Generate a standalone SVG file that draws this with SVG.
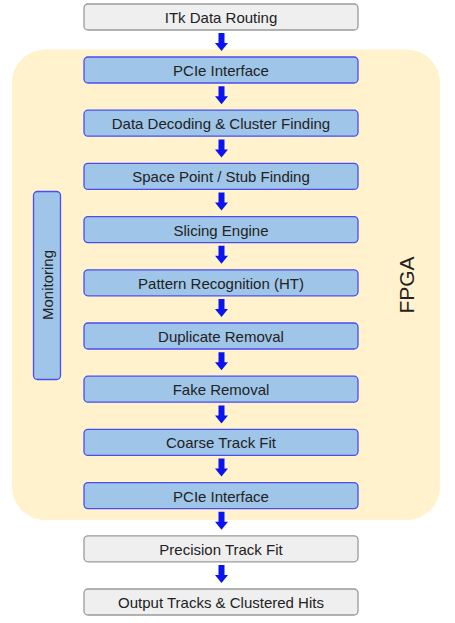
<svg xmlns="http://www.w3.org/2000/svg" width="455" height="623" viewBox="0 0 455 623">
<defs>
<style>
.g rect{fill:#efefef;stroke:#9a9a9a;stroke-width:1.3}
.b rect{fill:#9fc5e8;stroke:#4a4ef2;stroke-width:1.3}
text{font-family:"Liberation Sans",Arial,sans-serif;font-size:15px;fill:#222;text-anchor:middle;dominant-baseline:central}
.arr{fill:#0a14f0}
</style>
<path id="a" d="M-3,0 H3 V10 H6.5 L0,18 L-6.5,10 H-3 Z"/>
</defs>
<rect id="fpga-bg" x="12" y="49.5" width="428" height="470.5" rx="33" fill="#fff2cc"/>
<g id="fpga-label"><text x="406" y="285" transform="rotate(-90 406 285)" style="font-size:21px">FPGA</text></g>
<g id="monitoring" class="b"><rect x="33.5" y="191.5" width="27" height="188" rx="4"/><text x="47" y="285" transform="rotate(-90 47 285)">Monitoring</text></g>
<g id="n0" class="g"><rect x="84" y="4" width="274" height="26" rx="4"/><text x="221" y="17.5">ITk Data Routing</text></g>
<g id="n1" class="b"><rect x="84" y="57" width="274" height="26" rx="4"/><text x="221" y="70.5">PCIe Interface</text></g>
<g id="n2" class="b"><rect x="84" y="110.2" width="274" height="26" rx="4"/><text x="221" y="123.7">Data Decoding &amp; Cluster Finding</text></g>
<g id="n3" class="b"><rect x="84" y="163.4" width="274" height="26" rx="4"/><text x="221" y="176.9">Space Point / Stub Finding</text></g>
<g id="n4" class="b"><rect x="84" y="216.6" width="274" height="26" rx="4"/><text x="221" y="230.1">Slicing Engine</text></g>
<g id="n5" class="b"><rect x="84" y="269.8" width="274" height="26" rx="4"/><text x="221" y="283.3">Pattern Recognition (HT)</text></g>
<g id="n6" class="b"><rect x="84" y="323" width="274" height="26" rx="4"/><text x="221" y="336.5">Duplicate Removal</text></g>
<g id="n7" class="b"><rect x="84" y="376.2" width="274" height="26" rx="4"/><text x="221" y="389.7">Fake Removal</text></g>
<g id="n8" class="b"><rect x="84" y="429.4" width="274" height="26" rx="4"/><text x="221" y="442.9">Coarse Track Fit</text></g>
<g id="n9" class="b"><rect x="84" y="482.6" width="274" height="26" rx="4"/><text x="221" y="496.1">PCIe Interface</text></g>
<g id="n10" class="g"><rect x="84" y="535.8" width="274" height="26" rx="4"/><text x="221" y="549.3">Precision Track Fit</text></g>
<g id="n11" class="g"><rect x="84" y="589" width="274" height="26" rx="4"/><text x="221" y="602.5">Output Tracks &amp; Clustered Hits</text></g>
<g id="connectors" class="arr">
<use href="#a" x="221.5" y="33"/>
<use href="#a" x="221.5" y="86.2"/>
<use href="#a" x="221.5" y="139.4"/>
<use href="#a" x="221.5" y="192.6"/>
<use href="#a" x="221.5" y="245.8"/>
<use href="#a" x="221.5" y="299"/>
<use href="#a" x="221.5" y="352.2"/>
<use href="#a" x="221.5" y="405.4"/>
<use href="#a" x="221.5" y="458.6"/>
<use href="#a" x="221.5" y="511.8"/>
<use href="#a" x="221.5" y="565"/>
</g>
</svg>
